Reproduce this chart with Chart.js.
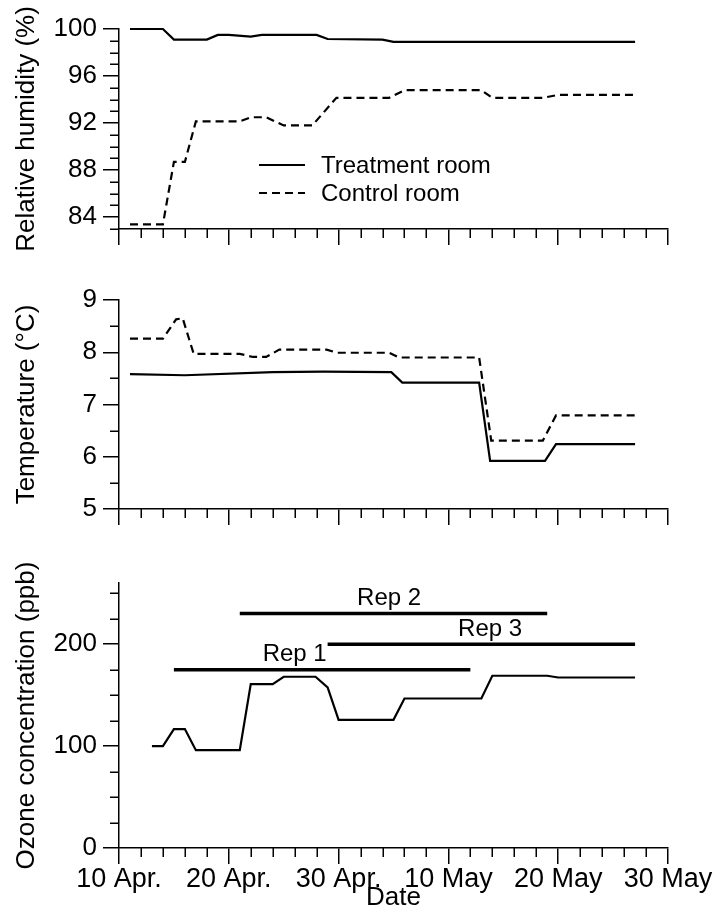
<!DOCTYPE html>
<html>
<head>
<meta charset="utf-8">
<script src="https://cdn.jsdelivr.net/npm/chart.js@4.4.1/dist/chart.umd.min.js"></script>
<style>
  body { margin: 0; background: #fff; }
  #wrap { position: relative; width: 715px; height: 911px; }
  canvas { position: absolute; left: 0; }
</style>
</head>
<body>
<div id="wrap">
  <canvas id="rhChart" width="715" height="260" style="top:0px"></canvas>
  <canvas id="tempChart" width="715" height="300" style="top:260px"></canvas>
  <canvas id="ozoneChart" width="715" height="351" style="top:560px"></canvas>
</div>
<script>
// ---------------- DATA ----------------
// x values are days after 10 April

const dateTicks = [0, 10, 20, 30, 40, 50];
const dateLabels = ["10 Apr.", "20 Apr.", "30 Apr.", "10 May", "20 May", "30 May"];
const seriesNames = ["Treatment room", "Control room"];

// relative humidity (%)
const rhTreatDays = [1, 4, 5, 8, 9, 10, 12, 13, 18, 19, 24, 25, 47];
const rhTreat = [100, 100, 99.1, 99.1, 99.5, 99.5, 99.35, 99.5, 99.5, 99.15, 99.1, 98.9, 98.9];
const rhControlDays = [1, 4, 5, 6, 7, 11, 12, 13.4, 15, 17.6, 19.8, 24.6, 26, 33, 34, 38.6, 40, 47];
const rhControl = [83.4, 83.4, 88.7, 88.7, 92.15, 92.15, 92.5, 92.5, 91.8, 91.8, 94.15, 94.15, 94.8, 94.8, 94.15, 94.15, 94.4, 94.4];
const rhTicks = [84, 88, 92, 96, 100];

// temperature (°C)
const tempTreatDays = [1, 6, 14, 18.6, 24.8, 25.8, 32.8, 33.8, 38.8, 39.8, 47];
const tempTreat = [7.58, 7.56, 7.62, 7.63, 7.62, 7.42, 7.42, 5.92, 5.92, 6.24, 6.24];
const tempControlDays = [1, 4, 5.2, 5.8, 6.8, 11, 12.2, 13.4, 14.6, 18.9, 19.9, 24.6, 25.5, 32.8, 33.9, 38.6, 39.8, 47];
const tempControl = [8.26, 8.26, 8.63, 8.65, 7.97, 7.97, 7.91, 7.91, 8.05, 8.05, 7.99, 7.99, 7.9, 7.9, 6.31, 6.31, 6.79, 6.79];
const tempTicks = [5, 6, 7, 8, 9];

// ozone (ppb)
const ozoneDays = [3, 4, 5, 6, 7, 11, 12, 14, 15, 17.9, 19, 20, 25, 26, 33, 34, 39, 40, 47];
const ozone = [100, 100, 116.7, 116.7, 96, 96, 160.8, 160.8, 168, 168, 157.5, 125.8, 125.8, 146.7, 146.7, 169, 169, 167.3, 167.3];
const ozoneTicks = [0, 100, 200];

// replicate periods
const repNames = ["Rep 1", "Rep 2", "Rep 3"];
const repStart = [5, 11, 19];
const repEnd = [32, 39, 47];
const repLevel = [175, 230, 200];
const repLabelDay = [16, 24.6, 33.8];

// ---------------- HELPERS ----------------

const FONT = "'Liberation Sans', Arial, Helvetica, sans-serif";
Chart.defaults.font.family = FONT;
Chart.defaults.color = "#000";

function toPoints(xs, ys) {
  return xs.map((x, i) => ({ x: x, y: ys[i] }));
}

function lineSet(label, xs, ys, dashed) {
  return {
    label: label,
    data: toPoints(xs, ys),
    borderColor: "#000",
    borderWidth: 2.2,
    borderDash: dashed ? [8, 5] : [],
    pointRadius: 0,
    tension: 0,
    fill: false,
    clip: false
  };
}

function range(from, to, step, skip) {
  let out = [];
  for (let v = from; v <= to + 1e-9; v += step) {
    let r = Math.round(v * 100) / 100;
    if (!skip.includes(r)) out.push(r);
  }
  return out;
}

function xScale(axisHeight, showLabels) {
  return {
    type: "linear",
    min: 0,
    max: 50,
    afterBuildTicks: (s) => { s.ticks = dateTicks.map((v) => ({ value: v })); },
    afterFit: (s) => { s.height = axisHeight; },
    grid: { drawOnChartArea: false, drawTicks: true, tickLength: 16, color: "#000", lineWidth: 1.5 },
    border: { display: true, color: "#000", width: 1.5 },
    ticks: {
      display: showLabels,
      autoSkip: false,
      maxRotation: 0,
      padding: 2,
      font: { size: 27, lineHeight: 1 },
      callback: (v) => dateLabels[dateTicks.indexOf(v)]
    },
    title: { display: showLabels, text: "Date", font: { size: 26, lineHeight: 1 }, padding: 0 }
  };
}

function yScale(min, max, tickVals, title) {
  return {
    min: min,
    max: max,
    afterBuildTicks: (s) => { s.ticks = tickVals.map((v) => ({ value: v })); },
    afterFit: (s) => { s.width = 119; },
    grid: { drawOnChartArea: false, drawTicks: true, tickLength: 16, color: "#000", lineWidth: 1.5 },
    border: { display: true, color: "#000", width: 1.5 },
    ticks: { padding: 6, font: { size: 26, lineHeight: 1 } },
    title: { display: true, text: title, font: { size: 26, lineHeight: 1 }, padding: { top: 14, bottom: 0 } }
  };
}

// short ticks between the labelled ones
const minorTicks = {
  id: "minorTicks",
  afterDraw(chart, args, opts) {
    const ctx = chart.ctx;
    const xs = chart.scales.x, ys = chart.scales.y;
    ctx.save();
    ctx.strokeStyle = "#000";
    ctx.lineWidth = 1.5;
    ctx.beginPath();
    opts.x.forEach((v) => {
      let px = Math.round(xs.getPixelForValue(v)) + 0.25;
      ctx.moveTo(px, xs.top);
      ctx.lineTo(px, xs.top + 9);
    });
    opts.y.forEach((v) => {
      let py = Math.round(ys.getPixelForValue(v)) + 0.25;
      ctx.moveTo(ys.right - 9, py);
      ctx.lineTo(ys.right, py);
    });
    ctx.stroke();
    ctx.restore();
  }
};

const xMinor = range(0, 50, 2, dateTicks);

function baseOptions(xAxisHeight, showX, y, padTop, minorY) {
  return {
    responsive: false,
    animation: false,
    devicePixelRatio: 1,
    layout: { padding: { top: padTop, right: 47, left: 0, bottom: 0 } },
    scales: { x: xScale(xAxisHeight, showX), y: y },
    plugins: {
      legend: { display: false },
      tooltip: { enabled: false },
      minorTicks: { x: xMinor, y: minorY }
    }
  };
}

// ---------------- RELATIVE HUMIDITY ----------------

const rhLegend = {
  id: "rhLegend",
  afterDatasetsDraw(chart) {
    const ctx = chart.ctx, area = chart.chartArea;
    chart.data.datasets.forEach((ds, i) => {
      let x0 = area.left + 140;
      let y = area.top + 136 + i * 28;
      ctx.save();
      ctx.strokeStyle = ds.borderColor;
      ctx.lineWidth = ds.borderWidth;
      ctx.setLineDash(ds.borderDash);
      ctx.beginPath();
      ctx.moveTo(x0, y);
      ctx.lineTo(x0 + 46, y);
      ctx.stroke();
      ctx.setLineDash([]);
      ctx.fillStyle = "#000";
      ctx.font = "24px " + FONT;
      ctx.textBaseline = "middle";
      ctx.fillText(ds.label, x0 + 62, y + 1);
      ctx.restore();
    });
  }
};

new Chart(document.getElementById("rhChart"), {
  type: "line",
  data: {
    datasets: [
      lineSet(seriesNames[0], rhTreatDays, rhTreat, false),
      lineSet(seriesNames[1], rhControlDays, rhControl, true)
    ]
  },
  options: baseOptions(31, false, yScale(83, 100, rhTicks, "Relative humidity (%)"), 29, range(83, 99, 1, rhTicks)),
  plugins: [minorTicks, rhLegend]
});

// ---------------- TEMPERATURE ----------------

new Chart(document.getElementById("tempChart"), {
  type: "line",
  data: {
    datasets: [
      lineSet(seriesNames[0], tempTreatDays, tempTreat, false),
      lineSet(seriesNames[1], tempControlDays, tempControl, true)
    ]
  },
  options: baseOptions(51, false, yScale(5, 9, tempTicks, "Temperature (°C)"), 40, range(5.5, 8.5, 0.5, tempTicks)),
  plugins: [minorTicks]
});

// ---------------- OZONE ----------------

const repText = {
  id: "repText",
  afterDatasetsDraw(chart) {
    const ctx = chart.ctx, xs = chart.scales.x, ys = chart.scales.y;
    ctx.save();
    ctx.fillStyle = "#000";
    ctx.font = "24px " + FONT;
    ctx.textAlign = "center";
    ctx.textBaseline = "middle";
    repNames.forEach((name, i) => {
      ctx.fillText(name, xs.getPixelForValue(repLabelDay[i]), ys.getPixelForValue(repLevel[i]) - 15);
    });
    ctx.restore();
  }
};

let ozoneSets = [lineSet("Ozone", ozoneDays, ozone, false)];
repNames.forEach((name, i) => {
  let ds = lineSet(name, [repStart[i], repEnd[i]], [repLevel[i], repLevel[i]], false);
  ds.borderWidth = 3.5;
  ozoneSets.push(ds);
});

new Chart(document.getElementById("ozoneChart"), {
  type: "line",
  data: { datasets: ozoneSets },
  options: baseOptions(63, true, yScale(0, 260, ozoneTicks, "Ozone concentration (ppb)"), 23, range(25, 250, 25, ozoneTicks)),
  plugins: [minorTicks, repText]
});
</script>
</body>
</html>
